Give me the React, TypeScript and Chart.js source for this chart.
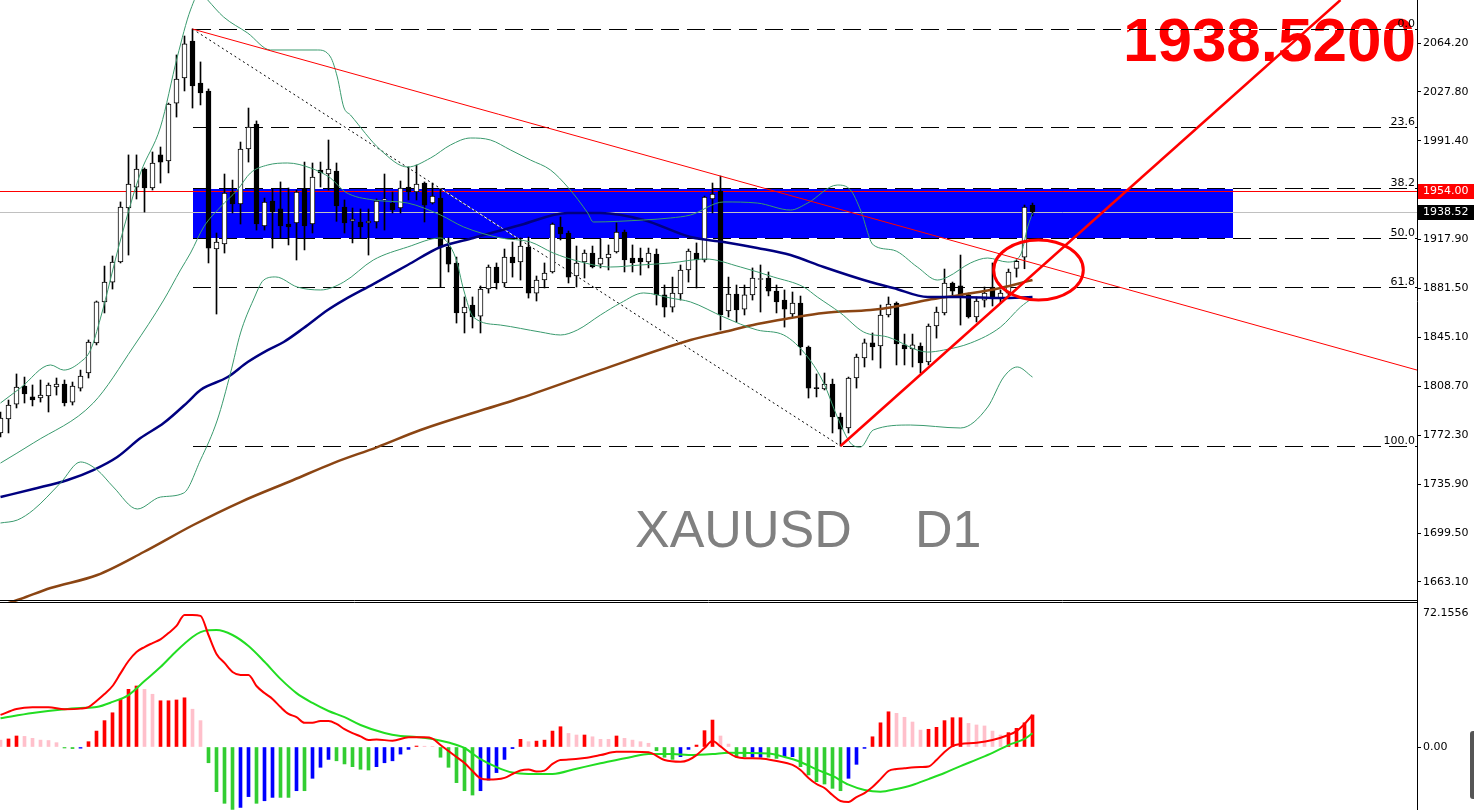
import React, { useEffect, useRef } from "react";
import { Chart, registerables } from "chart.js";

Chart.register(...registerables);
Chart.defaults.font.family = "'DejaVu Sans', sans-serif";
Chart.defaults.font.size = 11;

// ---------------- DATA (XAUUSD D1) ----------------
const opens = [
  1774.0, 1784.4, 1795.5, 1808.9, 1800.8, 1800.0, 1801.5, 1808.2, 1810.4, 1797.0,
  1807.4, 1818.6, 1841.0, 1871.5, 1886.3, 1901.2, 1941.4, 1957.0, 1970.4, 1956.3,
  1980.9, 1976.4, 2019.5, 2038.2, 2065.7, 2034.4, 2028.5, 1910.9, 1914.6, 1953.3,
  1944.4, 1985.3, 2003.9, 1928.0, 1946.6, 1940.7, 1929.5, 1930.3, 1955.5, 1929.5,
  1969.7, 1966.7, 1968.9, 1942.1, 1931.7, 1931.0, 1930.3, 1931.0, 1947.4, 1945.1,
  1941.4, 1957.0, 1953.3, 1960.0, 1945.1, 1948.8, 1912.4, 1900.5, 1863.3, 1869.2,
  1861.0, 1881.1, 1897.5, 1885.6, 1904.9, 1901.2, 1912.4, 1878.1, 1887.8, 1893.8,
  1927.3, 1922.8, 1890.8, 1901.2, 1907.9, 1899.7, 1904.2, 1908.7, 1923.5, 1904.2,
  1904.2, 1901.2, 1907.2, 1876.7, 1867.7, 1877.4, 1895.3, 1907.9, 1902.7, 1948.1,
  1954.0, 1864.8, 1877.4, 1866.2, 1876.7, 1888.2, 1889.3, 1879.6, 1872.9, 1862.5,
  1870.7, 1838.0, 1807.4, 1806.7, 1810.4, 1785.9, 1777.7, 1814.9, 1829.8, 1841.0,
  1838.7, 1861.8, 1870.7, 1839.5, 1836.5, 1838.7, 1826.8, 1853.6, 1863.3, 1885.6,
  1883.4, 1876.7, 1860.3, 1872.9, 1882.6, 1873.7, 1878.1, 1896.5, 1904.9, 1943.6,
];
const highs = [
  1789.6, 1798.5, 1817.9, 1815.6, 1809.7, 1813.4, 1811.2, 1814.9, 1813.4, 1811.9,
  1820.8, 1843.2, 1872.2, 1898.2, 1905.7, 1945.9, 1980.9, 1980.9, 1971.2, 1983.1,
  1986.8, 2019.5, 2055.3, 2069.4, 2074.6, 2050.1, 2030.0, 1922.8, 1966.7, 1962.2,
  1990.5, 2015.8, 2006.2, 1948.8, 1955.5, 1960.8, 1956.3, 1954.8, 1975.6, 1974.9,
  1975.6, 1992.0, 1974.9, 1947.4, 1941.4, 1940.7, 1940.7, 1948.1, 1966.7, 1953.3,
  1961.5, 1972.0, 1973.4, 1960.8, 1960.0, 1955.5, 1919.1, 1904.9, 1875.2, 1875.2,
  1883.4, 1899.0, 1900.5, 1910.9, 1916.1, 1919.1, 1919.8, 1890.8, 1900.5, 1930.3,
  1934.7, 1924.3, 1913.1, 1910.2, 1913.1, 1918.3, 1913.9, 1930.3, 1925.0, 1913.9,
  1911.6, 1911.6, 1910.9, 1884.1, 1890.0, 1899.0, 1910.9, 1915.4, 1950.3, 1960.0,
  1965.2, 1890.0, 1884.1, 1884.1, 1896.8, 1899.0, 1893.8, 1884.1, 1880.4, 1878.9,
  1875.9, 1838.7, 1817.9, 1818.6, 1814.1, 1788.8, 1815.6, 1832.7, 1843.9, 1848.4,
  1869.2, 1875.2, 1871.5, 1847.6, 1847.6, 1841.0, 1855.1, 1867.7, 1896.0, 1886.3,
  1906.4, 1878.1, 1875.2, 1882.6, 1900.5, 1880.4, 1896.0, 1902.7, 1943.6, 1945.1,
];
const lows = [
  1771.0, 1774.0, 1792.6, 1796.3, 1794.1, 1797.0, 1789.6, 1802.2, 1794.1, 1794.8,
  1805.2, 1814.9, 1839.5, 1863.3, 1881.1, 1900.5, 1906.4, 1948.1, 1938.4, 1954.8,
  1960.0, 1967.5, 2009.1, 2028.5, 2015.8, 2018.1, 1900.5, 1862.5, 1907.9, 1937.7,
  1929.5, 1975.6, 1925.0, 1925.0, 1911.6, 1919.1, 1913.9, 1902.7, 1910.2, 1922.8,
  1957.0, 1954.8, 1931.5, 1922.8, 1915.4, 1919.1, 1906.4, 1926.5, 1925.0, 1937.7,
  1937.7, 1947.4, 1947.4, 1931.0, 1944.4, 1882.6, 1893.8, 1855.8, 1848.4, 1852.1,
  1848.4, 1878.1, 1881.1, 1882.6, 1890.0, 1887.8, 1874.4, 1872.2, 1881.9, 1893.0,
  1917.6, 1885.6, 1882.6, 1889.3, 1896.8, 1896.8, 1895.3, 1907.9, 1893.8, 1893.8,
  1891.5, 1896.8, 1869.2, 1860.3, 1864.0, 1872.9, 1886.3, 1881.9, 1901.2, 1937.7,
  1850.6, 1860.3, 1856.6, 1861.8, 1872.9, 1864.0, 1876.0, 1863.3, 1852.8, 1860.3,
  1832.0, 1800.0, 1800.8, 1806.0, 1774.0, 1764.3, 1774.0, 1807.4, 1823.1, 1828.3,
  1822.3, 1860.3, 1824.6, 1824.6, 1823.1, 1818.6, 1824.6, 1844.6, 1861.8, 1876.7,
  1854.3, 1859.5, 1856.6, 1867.7, 1868.5, 1870.7, 1876.7, 1890.0, 1896.2, 1935.5,
];
const closes = [
  1785.1, 1794.8, 1808.2, 1803.0, 1798.5, 1802.2, 1809.7, 1810.4, 1796.3, 1808.9,
  1816.4, 1841.7, 1871.5, 1886.3, 1901.2, 1942.1, 1959.3, 1970.4, 1956.3, 1974.9,
  1975.6, 2018.8, 2037.4, 2063.5, 2032.2, 2027.0, 1911.6, 1916.1, 1952.6, 1944.4,
  1985.3, 2001.7, 1929.5, 1945.9, 1938.4, 1928.0, 1927.3, 1953.3, 1928.0, 1964.5,
  1967.5, 1970.4, 1942.9, 1930.3, 1933.2, 1927.3, 1931.7, 1946.6, 1948.1, 1939.9,
  1956.3, 1953.3, 1959.3, 1943.6, 1950.3, 1912.4, 1899.7, 1863.3, 1867.7, 1860.3,
  1881.1, 1897.5, 1885.6, 1904.9, 1900.5, 1913.1, 1878.1, 1887.8, 1893.0, 1929.5,
  1922.1, 1890.0, 1900.5, 1907.9, 1897.5, 1904.2, 1907.2, 1923.5, 1902.7, 1900.5,
  1901.2, 1907.9, 1876.7, 1867.7, 1878.1, 1895.3, 1909.4, 1902.7, 1949.6, 1951.8,
  1861.8, 1877.4, 1865.5, 1876.7, 1889.3, 1888.6, 1879.6, 1871.5, 1866.2, 1870.7,
  1838.0, 1807.4, 1807.0, 1810.4, 1785.9, 1776.9, 1814.9, 1830.5, 1841.0, 1838.0,
  1861.8, 1870.0, 1840.2, 1836.5, 1839.5, 1826.1, 1853.6, 1864.0, 1885.6, 1879.6,
  1876.0, 1860.3, 1872.2, 1878.1, 1874.4, 1878.1, 1893.8, 1901.7, 1942.1, 1938.52,
];

// Bollinger bands and moving averages: [bar index, price]
const bbUpper: [number, number][] = [
  [0, 1796.3], [2.5, 1807.5], [6.25, 1824.6], [7.9, 1820.8], [10, 1826.8], [11.25, 1835.7],
  [12.5, 1859.5], [15, 1917.6], [17.5, 1967.5], [20, 2001.7], [22.1, 2053.8], [23.75, 2088.8],
  [25, 2102.2], [25.9, 2096.2], [27.9, 2083.5], [30.9, 2071.6], [33.75, 2059.0], [39.6, 2059.0],
  [41.25, 2053.8], [42.1, 2038.9], [42.9, 2016.6], [43.75, 2010.6], [47.5, 1984.6], [50.9, 1971.9],
  [53.75, 1978.6], [56.25, 1988.3], [58.75, 1993.5], [61.25, 1992.0], [63.75, 1984.6], [66.25, 1977.1],
  [68.75, 1969.7], [71, 1956.3], [73.4, 1937.7], [74.1, 1931.0], [80.4, 1932.5], [83.75, 1934.0],
  [86.25, 1936.2], [90.4, 1945.9], [94.6, 1945.1], [98.75, 1939.9], [100.9, 1945.1], [104.6, 1958.5],
  [106.25, 1954.8], [107.5, 1939.9], [109.1, 1913.9], [111.6, 1910.1], [114.6, 1897.5], [117.1, 1887.8],
  [118.4, 1890.1], [121.25, 1900.5], [123.4, 1904.2], [125.9, 1901.2], [127.5, 1906.4], [128.4, 1927.3],
  [129, 1937.7],
];
const bbMiddle: [number, number][] = [
  [0, 1751.6], [4.1, 1766.5], [11.6, 1796.3], [16.6, 1838.0], [20.4, 1872.9], [22.5, 1895.3],
  [23.75, 1907.9], [25.4, 1927.3], [27.5, 1942.2], [29.6, 1954.8], [31.25, 1967.5], [33.4, 1973.4],
  [35.9, 1974.9], [38.75, 1971.2], [41.25, 1963.7], [43.1, 1953.3], [46.6, 1947.4], [50.9, 1945.1],
  [55, 1936.2], [57.9, 1927.3], [62.5, 1919.1], [66.25, 1916.1], [69.1, 1907.9], [72.1, 1902.0],
  [76.25, 1897.5], [80, 1899.0], [83.75, 1900.5], [88.1, 1903.5], [92.5, 1897.5], [96.6, 1890.1],
  [100.4, 1882.6], [102.1, 1875.2], [105, 1863.3], [107.9, 1849.1], [110.9, 1845.4], [115.9, 1834.2],
  [117.9, 1835.7], [121.25, 1840.9], [125, 1852.8], [127.5, 1867.7], [129, 1874.4],
];
const bbLower: [number, number][] = [
  [0, 1707.0], [2.1, 1709.2], [4.1, 1716.7], [7.5, 1736.8], [10, 1752.4], [12.1, 1746.4],
  [14.1, 1733.8], [17.1, 1717.4], [20, 1726.3], [22.9, 1729.3], [25, 1753.9], [27.1, 1783.6],
  [28.75, 1818.6], [30, 1848.4], [31.6, 1872.9], [32.9, 1887.8], [34.4, 1890.1], [37.1, 1882.6],
  [40, 1880.4], [42.9, 1886.3], [46.6, 1902.7], [50.9, 1912.4], [55, 1919.1], [56.9, 1904.2],
  [57.9, 1880.4], [59.1, 1860.3], [62.5, 1854.3], [67.5, 1849.1], [70, 1846.9], [72.1, 1850.6],
  [75, 1861.8], [77.5, 1870.7], [80.4, 1878.2], [83.75, 1874.4], [86.25, 1871.5], [90.4, 1860.3],
  [94.6, 1850.6], [97.9, 1846.9], [100.9, 1830.5], [102.9, 1811.2], [104.6, 1785.9], [106.25, 1766.5],
  [107.5, 1763.5], [109.1, 1776.2], [113.75, 1779.9], [120, 1777.7], [123.4, 1793.3], [125.4, 1815.6],
  [127.1, 1823.1], [129, 1815.6],
];
const maFast: [number, number][] = [
  [0, 1726.3], [4.1, 1732.3], [8.4, 1739.0], [11.6, 1746.4], [14.6, 1756.1], [17.5, 1770.2],
  [20.4, 1781.4], [23.4, 1797.0], [25, 1806.0], [28.4, 1815.6], [30.9, 1826.8], [33.4, 1835.7],
  [35.4, 1841.7], [37.9, 1852.1], [40.9, 1865.5], [42.9, 1872.9], [46.6, 1884.8], [50.9, 1899.0],
  [55, 1912.4], [59.1, 1919.1], [65, 1928.8], [70.9, 1937.7], [75, 1937.7], [80.4, 1932.5],
  [86.25, 1919.8], [90.4, 1916.1], [94.6, 1911.6], [98.75, 1906.4], [102.9, 1897.5], [108.75, 1886.3],
  [111.6, 1881.9], [115.9, 1875.2], [120, 1875.2], [125, 1874.4], [129, 1875.2],
];
const maSlow: [number, number][] = [
  [0, 1645.5], [2.5, 1650.4], [6.25, 1658.6], [12.1, 1668.3], [17.9, 1685.4], [24.1, 1705.5],
  [30, 1722.6], [36.6, 1739.0], [41.6, 1751.6], [47.1, 1763.5], [52.5, 1776.2], [65, 1800.0],
  [75, 1820.8], [86.25, 1843.2], [90.4, 1849.1], [94.6, 1855.1], [98.75, 1859.5], [102.9, 1863.3],
  [108.75, 1865.5], [111.6, 1867.7], [115.9, 1872.9], [120, 1876.7], [125, 1881.9], [129, 1887.8],
];

// drawn objects
const downTrend: [number, number][] = [[24, 2074.6], [177.0625, 1820.8]];
const upTrend: [number, number][] = [[105, 1764.3], [167.5, 2096.2]];
const fibHighIdx = 24;
const fibHigh = 2074.6;
const fibLowIdx = 105;
const fibLow = 1764.3;
const fibLevels = [0, 23.6, 38.2, 50, 61.8, 100];
const zoneStartIdx = 24;
const zoneEndIdx = 154;
const resistancePrice = 1954.0;
const bidPrice = 1938.52;
const circleCenter = { x: 129.75, y: 1895.3 };
const circleRadius = { x: 5.6, y: 22.3 };

const priceTicks = [2064.2, 2027.8, 1991.4, 1917.9, 1881.5, 1845.1, 1808.7, 1772.3, 1735.9, 1699.5, 1663.1];
const titleText = "1938.5200";
const symbolText = "XAUUSD";
const periodText = "D1";

// MACD panel
const macdHist = [
  3.5, 4.1, 5.6, 5.4, 4.4, 3.5, 3.3, 2.2, -0.5, -0.8,
  -0.6, 2.7, 8.1, 13.4, 17.4, 24.2, 29.3, 31.0, 29.3, 26.8,
  23.5, 23.5, 23.9, 25.0, 19.2, 13.4, -8.0, -22.7, -28.6, -31.7,
  -30.7, -25.2, -28.6, -27.3, -25.6, -25.6, -25.6, -22.2, -22.2, -15.9,
  -10.3, -6.3, -7.0, -8.6, -10.0, -11.3, -11.7, -10.0, -8.0, -7.0,
  -3.6, -1.2, 0.5, 0.4, 0.3, -5.2, -10.3, -18.1, -22.2, -24.4,
  -22.2, -16.8, -13.0, -6.3, -0.8, 3.9, 2.7, 3.0, 3.5, 8.1,
  10.3, 6.9, 6.1, 6.1, 5.2, 3.9, 3.9, 5.6, 4.4, 3.5,
  2.7, 1.9, -1.9, -5.2, -6.3, -4.9, -1.2, 1.0, 8.3, 13.7,
  5.6, 1.5, -5.2, -4.9, -5.2, -5.2, -5.2, -5.8, -4.9, -4.9,
  -10.0, -14.2, -17.6, -18.8, -21.0, -22.2, -15.9, -8.8, -0.7, 5.2,
  12.3, 17.9, 17.1, 15.1, 12.7, 8.6, 9.0, 10.0, 13.4, 14.9,
  14.9, 12.0, 11.2, 10.7, 8.1, 6.1, 7.3, 9.5, 12.3, 16.3,
];
// r = rising positive, p = falling positive, g = falling negative, b = rising negative
const histStates =
  "prrppppp" + "ggb" + "rrrrrrr" + "pp" + "rrrr" + "pp" + "gggg" + "bb" + "g" + "bb" + "gg" + "b" + "g" +
  "bbb" + "ggggg" + "bbbbb" + "r" + "pp" + "ggggg" + "bbbbb" + "rprrrr" + "pprppprpppp" + "ggg" + "bb" +
  "rrr" + "pp" + "gg" + "bb" + "gg" + "bb" + "gggggg" + "bbb" + "rrr" + "pppp" + "rrrrr" + "ppppp" + "rrrr";

const macdLine: [number, number][] = [
  [0, 16.3], [2, 19.3], [4, 20.2], [6, 20.2], [8, 19.2], [10, 19.5], [11, 20.3], [12, 23.4], [13, 26.9],
  [14, 31.0], [15, 37.4], [16, 43.7], [17, 48.3], [18, 50.8], [19, 52.8], [20, 54.7], [21, 57.9], [22, 61.5],
  [23, 67.1], [24, 67.1], [25, 66.6], [26, 56.9], [27, 47.3], [28, 42.7], [29, 38.1], [30, 36.6], [31, 36.6],
  [32, 31.0], [33, 27.4], [34, 24.4], [35, 20.3], [36, 16.8], [37, 15.2], [38, 12.3], [39, 12.3], [40, 13.2],
  [41, 13.2], [42, 11.7], [43, 9.1], [44, 7.1], [45, 5.4], [46, 3.6], [47, 3.8], [49, 3.2], [51, 4.9],
  [53, 4.9], [54, 4.3], [55, 1.0], [56, -2.0], [57, -5.1], [58, -8.1], [59, -12.2], [60, -15.9], [61, -16.5],
  [62, -16.4], [63, -15.7], [64, -13.7], [65, -11.9], [66, -11.4], [67, -12.5], [68, -12.0], [69, -8.6],
  [70, -6.6], [71, -6.4], [73, -5.6], [75, -4.1], [77, -2.4], [79, -2.4], [81, -2.7], [83, -6.6], [85, -7.5],
  [86, -6.6], [87, -4.1], [88, -0.5], [89, 3.0], [90, 0.3], [91, -2.9], [92, -5.1], [93, -5.7], [95, -5.8],
  [97, -7.1], [99, -9.1], [100, -11.7], [101, -15.7], [102, -18.8], [103, -20.8], [104, -24.4], [105, -27.4],
  [106, -27.9], [107, -25.4], [108, -23.4], [109, -20.3], [110, -16.3], [111, -12.2], [112, -11.2],
  [113, -10.8], [115, -10.2], [116, -9.9], [117, -6.6], [118, -2.5], [119, 0.5], [120, 1.5], [122, 2.2],
  [124, 3.6], [126, 6.1], [127, 8.1], [128, 11.7], [129, 16.3],
];
const signalLine: [number, number][] = [
  [0, 14.6], [4, 17.3], [8, 19.2], [10, 19.8], [12, 20.3], [14, 22.9], [16, 26.4], [18, 33.5], [20, 40.6],
  [22, 48.8], [24, 55.9], [25, 58.4], [26, 59.3], [27, 59.4], [29, 56.9], [31, 51.3], [33, 43.3], [35, 34.6],
  [37, 27.4], [39, 22.4], [41, 18.3], [43, 15.2], [45, 11.2], [48, 7.1], [50, 5.6], [52, 5.1], [54, 4.1],
  [56, 2.3], [58, -0.5], [60, -6.2], [62, -10.2], [64, -13.0], [66, -13.7], [69, -13.7], [72, -11.0],
  [75, -8.3], [79, -4.9], [81, -3.6], [84, -3.6], [86, -4.1], [89, -3.6], [91, -2.9], [96, -3.3], [98, -5.1],
  [100, -7.6], [102, -11.4], [104, -14.7], [106, -19.1], [108, -21.8], [110, -22.7], [112, -21.3],
  [114, -19.3], [116, -16.3], [118, -13.2], [120, -9.7], [122, -6.4], [124, -3.0], [126, 1.0], [128, 4.1],
  [129, 7.0],
];
const macdTopLabel = 72.1556;
const macdTicks = [0];

// ---------------- LAYOUT / STYLE ----------------
const W = 1474;
const AXIS_W = 57;
const MAIN_H = 602;
const MACD_H = 208;
const X_MIN = -0.0625;
const X_MAX = X_MIN + (W - AXIS_W) / 8;
const PRICE_MAX = 2096.2;
const PRICE_MIN = 1648.2;
const MACD_MAX = 73.67;
const MACD_MIN = -32.0;
const FONT = "'DejaVu Sans', sans-serif";
const BB_COLOR = "#3a9a6e";
const histColorMap: Record<string, string> = { r: "#ff0000", p: "#ffc0cb", g: "#32cd32", b: "#0000ff" };

const pts = (arr: [number, number][]) => arr.map(([x, y]) => ({ x, y }));
const fibPrice = (lvl: number) => fibHigh - (lvl / 100) * (fibHigh - fibLow);

const yAxis = (min: number, max: number, ticks: number[]) => ({
  type: "linear",
  position: "right",
  min,
  max,
  afterBuildTicks: (s: any) => {
    s.ticks = ticks.map((v) => ({ value: v }));
  },
  afterFit: (s: any) => {
    s.width = AXIS_W;
    s.paddingTop = 0;
    s.paddingBottom = 0;
  },
  grid: { drawOnChartArea: false, drawTicks: true, tickLength: 4, color: "#000", lineWidth: 1 },
  border: { display: true, color: "#000", width: 1 },
  ticks: {
    color: "#000",
    padding: 2,
    autoSkip: false,
    font: { family: FONT, size: 11 },
    callback: (v: any) => Number(v).toFixed(2),
  },
});

const xAxis = { type: "linear", min: X_MIN, max: X_MAX, display: false, offset: false };

const overlayPlugin = {
  id: "overlay",
  beforeDatasetsDraw(chart: any) {
    const { ctx, chartArea: a, scales } = chart;
    const x = scales.x;
    const y = scales.y;
    ctx.save();
    ctx.beginPath();
    ctx.rect(a.left, a.top, a.right - a.left, a.bottom - a.top);
    ctx.clip();

    // blue zone between fib 38.2 and 50.0
    const zx0 = Math.round(x.getPixelForValue(zoneStartIdx));
    const zx1 = Math.round(x.getPixelForValue(zoneEndIdx));
    const zy0 = Math.round(y.getPixelForValue(fibPrice(38.2)));
    const zy1 = Math.round(y.getPixelForValue(fibPrice(50)));
    ctx.fillStyle = "#0000ff";
    ctx.fillRect(zx0, zy0, zx1 - zx0, zy1 - zy0);

    // big price text
    ctx.fillStyle = "#ff0000";
    ctx.font = "bold 62px 'Liberation Sans', Arial, sans-serif";
    ctx.textAlign = "right";
    ctx.textBaseline = "alphabetic";
    ctx.fillText(titleText, 1416, 61);

    // symbol text
    ctx.fillStyle = "#808080";
    ctx.font = "52px 'Liberation Sans', Arial, sans-serif";
    ctx.textAlign = "left";
    ctx.fillText(symbolText, 635, 547);
    ctx.fillText(periodText, 915, 547);

    // horizontal price lines
    const ry = Math.round(y.getPixelForValue(resistancePrice)) + 0.5;
    ctx.lineWidth = 1;
    ctx.strokeStyle = "#ff0000";
    ctx.beginPath();
    ctx.moveTo(a.left, ry);
    ctx.lineTo(a.right, ry);
    ctx.stroke();
    const by = Math.round(y.getPixelForValue(bidPrice)) + 0.5;
    ctx.strokeStyle = "#c0c0c0";
    ctx.beginPath();
    ctx.moveTo(a.left, by);
    ctx.lineTo(a.right, by);
    ctx.stroke();

    // fib levels
    const fx = Math.round(x.getPixelForValue(fibHighIdx));
    ctx.font = `11px ${FONT}`;
    ctx.textAlign = "right";
    fibLevels.forEach((lvl) => {
      const py = Math.round(y.getPixelForValue(fibPrice(lvl))) + 0.5;
      ctx.setLineDash([]);
      ctx.strokeStyle = "#ffffff";
      ctx.beginPath();
      ctx.moveTo(fx, py);
      ctx.lineTo(a.right, py);
      ctx.stroke();
      ctx.setLineDash([18, 8]);
      ctx.strokeStyle = "#000000";
      ctx.beginPath();
      ctx.moveTo(fx, py);
      ctx.lineTo(a.right, py);
      ctx.stroke();
      ctx.fillStyle = "#000";
      ctx.fillText(lvl.toFixed(1), a.right - 2, py - 2.5);
    });

    // fib diagonal (dotted)
    const dx0 = x.getPixelForValue(fibHighIdx);
    const dy0 = y.getPixelForValue(fibHigh);
    const dx1 = x.getPixelForValue(fibLowIdx);
    const dy1 = y.getPixelForValue(fibLow);
    ctx.setLineDash([]);
    ctx.strokeStyle = "#ffffff";
    ctx.beginPath();
    ctx.moveTo(dx0, dy0);
    ctx.lineTo(dx1, dy1);
    ctx.stroke();
    ctx.setLineDash([2, 3]);
    ctx.strokeStyle = "#000000";
    ctx.beginPath();
    ctx.moveTo(dx0, dy0);
    ctx.lineTo(dx1, dy1);
    ctx.stroke();
    ctx.restore();
  },
  afterDatasetsDraw(chart: any) {
    const { ctx, chartArea: a, scales } = chart;
    const x = scales.x;
    const y = scales.y;
    ctx.save();
    ctx.beginPath();
    ctx.rect(a.left, a.top, a.right - a.left, a.bottom - a.top);
    ctx.clip();
    const cx = x.getPixelForValue(circleCenter.x);
    const cy = y.getPixelForValue(circleCenter.y);
    const rx = Math.abs(x.getPixelForValue(circleCenter.x + circleRadius.x) - cx);
    const ryy = Math.abs(y.getPixelForValue(circleCenter.y + circleRadius.y) - cy);
    ctx.strokeStyle = "#ff0000";
    ctx.lineWidth = 3;
    ctx.beginPath();
    ctx.ellipse(cx, cy, rx, ryy, 0, 0, Math.PI * 2);
    ctx.stroke();
    ctx.restore();
  },
  afterDraw(chart: any) {
    const { ctx, chartArea: a, scales } = chart;
    const y = scales.y;
    ctx.save();
    // panel bottom border
    ctx.strokeStyle = "#000";
    ctx.lineWidth = 1;
    ctx.beginPath();
    ctx.moveTo(0, MAIN_H - 1.5);
    ctx.lineTo(a.right, MAIN_H - 1.5);
    ctx.stroke();
    // axis price labels
    const drawLabel = (price: number, bg: string) => {
      const py = Math.round(y.getPixelForValue(price));
      ctx.fillStyle = bg;
      ctx.fillRect(a.right + 1, py - 7, W - a.right - 1, 15);
      ctx.fillStyle = "#fff";
      ctx.font = `11px ${FONT}`;
      ctx.textAlign = "left";
      ctx.textBaseline = "middle";
      ctx.fillText(price.toFixed(2), a.right + 6, py + 0.5);
    };
    drawLabel(resistancePrice, "#ff0000");
    drawLabel(bidPrice, "#000000");
    ctx.restore();
  },
};

const macdPlugin = {
  id: "macdOverlay",
  afterDraw(chart: any) {
    const { ctx, chartArea: a, scales } = chart;
    const y = scales.y;
    ctx.save();
    ctx.strokeStyle = "#000";
    ctx.lineWidth = 1;
    ctx.beginPath();
    ctx.moveTo(0, 0.5);
    ctx.lineTo(a.right, 0.5);
    ctx.stroke();
    ctx.fillStyle = "#000";
    ctx.font = `11px ${FONT}`;
    ctx.textAlign = "left";
    ctx.textBaseline = "middle";
    ctx.fillText(macdTopLabel.toFixed(4), a.right + 6, y.getPixelForValue(macdTopLabel) + 8);
    ctx.restore();
  },
};

const baseOptions = {
  responsive: false,
  animation: false as const,
  devicePixelRatio: 1,
  events: [] as any[],
  layout: { padding: 0 },
  plugins: { legend: { display: false }, tooltip: { enabled: false }, title: { display: false } },
};

const lineDs = (label: string, data: [number, number][], color: string, width: number, order: number) => ({
  type: "line",
  label,
  data: pts(data),
  borderColor: color,
  borderWidth: width,
  pointRadius: 0,
  cubicInterpolationMode: "monotone",
  fill: false,
  order,
});

export default function App() {
  const mainRef = useRef<HTMLCanvasElement>(null);
  const macdRef = useRef<HTMLCanvasElement>(null);

  useEffect(() => {
    document.body.style.margin = "0";
    const idx = opens.map((_, i) => i);
    const mainChart = new Chart(mainRef.current as HTMLCanvasElement, {
      type: "bar",
      data: {
        datasets: [
          { ...lineDs("Trend down", downTrend, "#ff0000", 1, -2), cubicInterpolationMode: "default", tension: 0 },
          { ...lineDs("Trend up", upTrend, "#ff0000", 2.5, -2), cubicInterpolationMode: "default", tension: 0 },
          lineDs("BB upper", bbUpper, BB_COLOR, 1, 0),
          lineDs("BB middle", bbMiddle, BB_COLOR, 1, 0),
          lineDs("BB lower", bbLower, BB_COLOR, 1, 0),
          lineDs("MA fast", maFast, "#000080", 2.5, 0),
          lineDs("MA slow", maSlow, "#8b4513", 2.5, 0),
          {
            type: "bar",
            label: "Body",
            data: idx.map((i) => ({ x: i, y: [opens[i], closes[i]] })),
            backgroundColor: idx.map((i) => (closes[i] >= opens[i] ? "#ffffff" : "#000000")),
            borderColor: "#000000",
            borderWidth: 1,
            borderSkipped: false,
            barThickness: 5,
            minBarLength: 1,
            grouped: false,
            order: 1,
          },
          {
            type: "bar",
            label: "Wick",
            data: idx.map((i) => ({ x: i, y: [lows[i], highs[i]] })),
            backgroundColor: "#000000",
            borderWidth: 0,
            barThickness: 1,
            grouped: false,
            order: 2,
          },
        ] as any,
      },
      options: {
        ...baseOptions,
        scales: { x: xAxis, y: yAxis(PRICE_MIN, PRICE_MAX, priceTicks) } as any,
      } as any,
      plugins: [overlayPlugin],
    });

    const macdChart = new Chart(macdRef.current as HTMLCanvasElement, {
      type: "bar",
      data: {
        datasets: [
          lineDs("MACD", macdLine, "#ff0000", 2, 0),
          lineDs("Signal", signalLine, "#22dd22", 2, 0),
          {
            type: "bar",
            label: "Histogram",
            data: macdHist.map((v, i) => ({ x: i, y: v })),
            backgroundColor: macdHist.map((_, i) => histColorMap[histStates[i]] || "#ff0000"),
            borderWidth: 0,
            barThickness: 3,
            grouped: false,
            order: 1,
          },
        ] as any,
      },
      options: {
        ...baseOptions,
        scales: { x: xAxis, y: yAxis(MACD_MIN, MACD_MAX, macdTicks) } as any,
      } as any,
      plugins: [macdPlugin],
    });

    return () => {
      mainChart.destroy();
      macdChart.destroy();
    };
  }, []);

  return (
    <div style={{ position: "absolute", left: 0, top: 0, width: W, height: 810, background: "#fff", overflow: "hidden" }}>
      <canvas ref={mainRef} width={W} height={MAIN_H} style={{ position: "absolute", left: 0, top: 0, width: W, height: MAIN_H }} />
      <canvas ref={macdRef} width={W} height={MACD_H} style={{ position: "absolute", left: 0, top: MAIN_H, width: W, height: MACD_H }} />
      <div style={{ position: "absolute", left: 1470, top: 731, width: 4, height: 68, background: "#555", borderRadius: "3px 0 0 3px" }} />
    </div>
  );
}
